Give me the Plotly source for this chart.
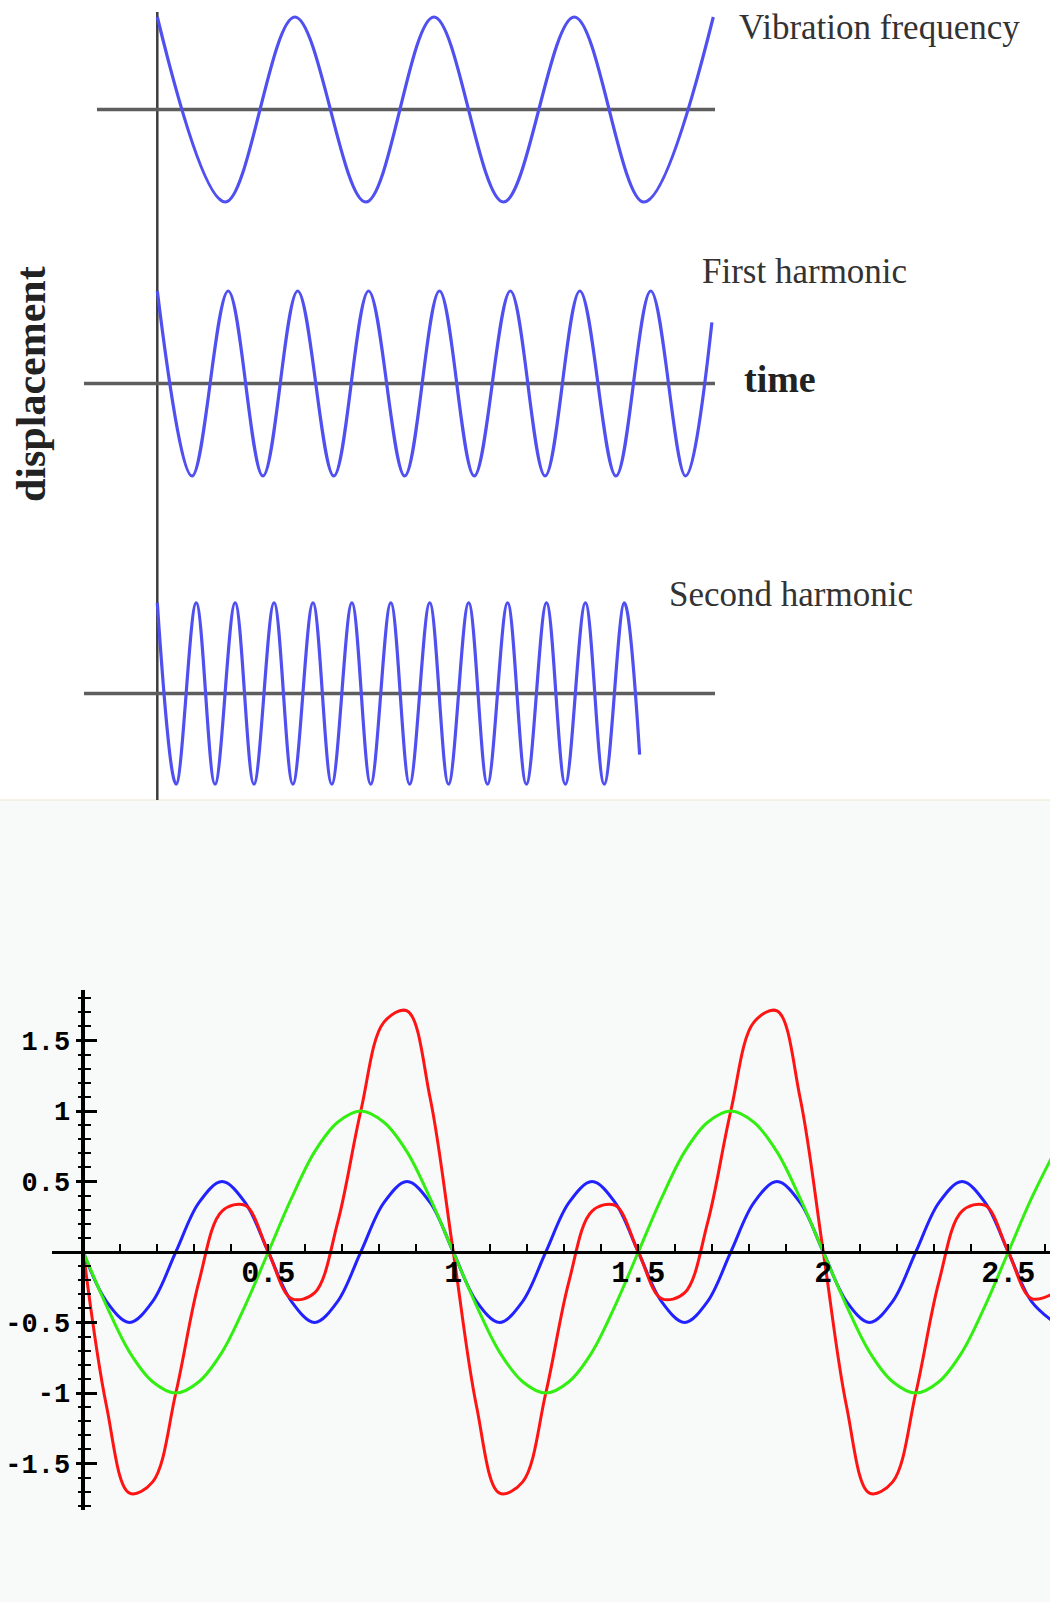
import plotly.graph_objects as go

W, H = 1050, 1602

# ---------------- top diagram: turning points ----------------
# time is in periods of the fundamental, displacement in wave amplitudes
FUND_T = [0, 0.49, 0.99, 1.5, 1.99, 2.49, 3.0, 3.5, 4.0]
FUND_Y = [1, -1, 1, -1, 1, -1, 1, -1, 1]

FIRST_T = [0, 0.25, 0.51, 0.76, 1.01, 1.27, 1.52, 1.78, 2.03, 2.28, 2.54, 2.79,
           3.04, 3.30, 3.55, 3.80, 3.99]
FIRST_Y = [1, -1, 1, -1, 1, -1, 1, -1, 1, -1, 1, -1, 1, -1, 1, -1, 0.66]

SECOND_T = [0, 0.135, 0.28, 0.415, 0.56, 0.695, 0.84, 0.975, 1.12, 1.255, 1.40, 1.535,
            1.68, 1.815, 1.96, 2.095, 2.24, 2.375, 2.52, 2.655, 2.80, 2.935, 3.08, 3.215,
            3.36, 3.47]
SECOND_Y = [0.98, -0.98, 0.98, -0.98, 0.98, -0.98, 0.98, -0.98, 0.98, -0.98, 0.98, -0.98,
            0.98, -0.98, 0.98, -0.98, 0.98, -0.98, 0.98, -0.98, 0.98, -0.98, 0.98, -0.98,
            0.98, -0.66]

WAVE_LABELS = ["Vibration frequency", "First harmonic", "Second harmonic"]
AXIS_LABELS = ["time", "displacement"]

# ---------------- bottom plot: values read every 1/16 along x ----------------
X_STEP = 0.0625
GREEN = [0, -0.38, -0.71, -0.92, -1, -0.92, -0.71, -0.38, 0, 0.38, 0.71, 0.92, 1, 0.92, 0.71, 0.38,
         0, -0.38, -0.71, -0.92, -1, -0.92, -0.71, -0.38, 0, 0.38, 0.71, 0.92, 1, 0.92, 0.71, 0.38,
         0, -0.38, -0.71, -0.92, -1, -0.92, -0.71, -0.38, 0, 0.38, 0.71]
BLUE = [0, -0.35, -0.5, -0.35, 0, 0.35, 0.5, 0.35, 0, -0.35, -0.5, -0.35, 0, 0.35, 0.5, 0.35,
        0, -0.35, -0.5, -0.35, 0, 0.35, 0.5, 0.35, 0, -0.35, -0.5, -0.35, 0, 0.35, 0.5, 0.35,
        0, -0.35, -0.5, -0.35, 0, 0.35, 0.5, 0.35, 0, -0.35, -0.5]
RED = [0, -1.09, -1.71, -1.63, -1, -0.21, 0.29, 0.33, 0, -0.33, -0.29, 0.21, 1, 1.63, 1.71, 1.09,
       0, -1.09, -1.71, -1.63, -1, -0.21, 0.29, 0.33, 0, -0.33, -0.29, 0.21, 1, 1.63, 1.71, 1.09,
       0, -1.09, -1.71, -1.63, -1, -0.21, 0.29, 0.33, 0, -0.33, -0.29]

X_TICKS = [0.5, 1, 1.5, 2, 2.5]
X_TICK_TEXT = ["0.5", "1", "1.5", "2", "2.5"]
Y_TICKS = [-1.5, -1, -0.5, 0.5, 1, 1.5]
Y_TICK_TEXT = ["-1.5", "-1", "-0.5", "0.5", "1", "1.5"]

# ---------------- pixel layout of the two pictures ----------------
SPLIT = 800  # where the bottom picture starts
T0_PX, T_PX = 157.3, 139.0  # top: x pixel of t=0, pixels per period
U0_PY, U_PY = 109.5, 92.5  # top: y pixel of first baseline, pixels per amplitude
BASE_PY = [109.5, 383.5, 693.5]
BASE_LEFT = [97, 84, 84]
BASE_RIGHT = 715

X0_PX, X_UNIT = 83.3, 370.0  # bottom: x pixel of x=0, px per unit
Y0_PY, Y_UNIT = 1252.0, 141.0
BOT_LEFT, BOT_TOP, BOT_BOTTOM = 52, 990, 1510


def tx(px):
    return (px - T0_PX) / T_PX


def ty(py):
    return (U0_PY - py) / U_PY


def paper_x(px):
    return px / W


def paper_y(py):
    return 1 - py / H


fig = go.Figure()

wave_color = "#5050f0"
for (t, y), base in zip([(FUND_T, FUND_Y), (FIRST_T, FIRST_Y), (SECOND_T, SECOND_Y)], BASE_PY):
    off = ty(base)
    fig.add_trace(go.Scatter(
        x=t, y=[v + off for v in y], mode="lines", line=dict(color=wave_color, width=3.2, shape="spline"),
        xaxis="x", yaxis="y", showlegend=False, hoverinfo="skip",
    ))

xs = [i * X_STEP for i in range(len(GREEN))]
fig.add_trace(go.Scatter(x=xs, y=GREEN, mode="lines", line=dict(color="#33ee11", width=3, shape="spline"),
                         xaxis="x2", yaxis="y3", showlegend=False))
fig.add_trace(go.Scatter(x=xs, y=BLUE, mode="lines", line=dict(color="#2222ff", width=3, shape="spline"),
                         xaxis="x2", yaxis="y2", showlegend=False))
fig.add_trace(go.Scatter(x=xs, y=RED, mode="lines", line=dict(color="#ff1414", width=3, shape="spline"),
                         xaxis="x2", yaxis="y2", showlegend=False))

# background of the lower picture and the seam between the two
fig.add_shape(type="rect", xref="paper", yref="paper", x0=0, x1=1, y0=0, y1=paper_y(SPLIT),
              fillcolor="#f8fafa", line_width=0, layer="below")
fig.add_shape(type="line", xref="paper", yref="paper", x0=0, x1=1, y0=paper_y(SPLIT), y1=paper_y(SPLIT),
              line=dict(color="#ece4cc", width=1), layer="below")

# hand-drawn axes of the top diagram
fig.add_shape(type="line", xref="x", yref="y", x0=0, x1=0, y0=ty(12), y1=ty(SPLIT),
              line=dict(color="#3c3c3c", width=2.5), layer="below")
for left, base in zip(BASE_LEFT, BASE_PY):
    fig.add_shape(type="line", xref="x", yref="y", x0=tx(left), x1=tx(BASE_RIGHT), y0=ty(base), y1=ty(base),
                  line=dict(color="#5e5e5e", width=3.5), layer="below")

serif = "Liberation Serif"
label_pos = [(737, 27.6), (700, 271.7), (667, 594.5)]
for text, (px, py) in zip(WAVE_LABELS, label_pos):
    fig.add_annotation(text=text, x=paper_x(px), y=paper_y(py), xref="paper", yref="paper",
                       xanchor="left", yanchor="middle", showarrow=False,
                       font=dict(family=serif, size=35, color="#333333"))
fig.add_annotation(text=AXIS_LABELS[0], x=paper_x(742), y=paper_y(379), xref="paper", yref="paper",
                   xanchor="left", yanchor="middle", showarrow=False,
                   font=dict(family=serif, size=38, color="#222222", weight="bold"))
fig.add_annotation(text=AXIS_LABELS[1], x=paper_x(31), y=paper_y(384), xref="paper", yref="paper",
                   xanchor="center", yanchor="middle", showarrow=False, textangle=-90,
                   font=dict(family=serif, size=42, color="#222222", weight="bold"))

x_tick_font = dict(family="Liberation Mono", size=30, color="black", weight="bold")
y_tick_font = dict(family="Liberation Mono", size=27, color="black", weight="bold")
y_range = [(Y0_PY - BOT_BOTTOM) / Y_UNIT, (Y0_PY - BOT_TOP) / Y_UNIT]
y_domain = [paper_y(BOT_BOTTOM), paper_y(BOT_TOP)]

fig.update_layout(
    width=W, height=H, template="none",
    margin=dict(l=0, r=0, t=0, b=0),
    paper_bgcolor="white", plot_bgcolor="rgba(0,0,0,0)",
    xaxis=dict(domain=[0, 1], range=[tx(0), tx(W)], visible=False),
    yaxis=dict(domain=[paper_y(SPLIT), 1], range=[ty(SPLIT), ty(0)], visible=False),
    xaxis2=dict(
        domain=[paper_x(BOT_LEFT), 1], range=[(BOT_LEFT - X0_PX) / X_UNIT, (W - X0_PX) / X_UNIT],
        anchor="free", position=paper_y(Y0_PY), showline=True, linecolor="black", linewidth=3,
        showgrid=False, zeroline=False, ticks="inside", ticklen=7, tickwidth=2, tickcolor="black",
        tickmode="array", tickvals=X_TICKS, ticktext=X_TICK_TEXT, tickfont=x_tick_font, ticklabelstandoff=-8,
        minor=dict(tick0=0, dtick=0.1, ticks="inside", ticklen=7, tickwidth=2, tickcolor="black", showgrid=False),
    ),
    yaxis2=dict(
        domain=y_domain, range=y_range, anchor="free", position=paper_x(X0_PX),
        showline=True, linecolor="black", linewidth=3.5, showgrid=False, zeroline=False,
        ticks="outside", ticklen=6, tickwidth=2.5, tickcolor="black",
        tickmode="array", tickvals=Y_TICKS, ticktext=Y_TICK_TEXT, tickfont=y_tick_font, ticklabelstandoff=0,
        minor=dict(tick0=0, dtick=0.1, ticks="outside", ticklen=4, tickwidth=2, tickcolor="black", showgrid=False),
    ),
    yaxis3=dict(
        overlaying="y2", range=y_range, anchor="free", position=paper_x(X0_PX),
        showline=False, showgrid=False, zeroline=False, showticklabels=False,
        ticks="inside", ticklen=13, tickwidth=2.5, tickcolor="black",
        tickmode="array", tickvals=Y_TICKS,
        minor=dict(tick0=0, dtick=0.1, ticks="inside", ticklen=7, tickwidth=2, tickcolor="black", showgrid=False),
    ),
)

fig.write_html("out.html", config={"displayModeBar": False},
               post_script="document.body.style.margin='0px';")
